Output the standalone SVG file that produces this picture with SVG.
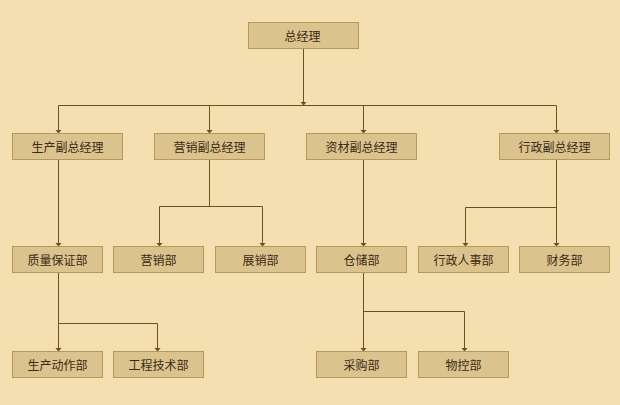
<svg xmlns="http://www.w3.org/2000/svg" width="620" height="405" viewBox="0 0 620 405">
<style>
.bg{fill:#F4DFB1}
.box rect{fill:#DBC38E;stroke:#B9975A;stroke-width:1}
.box text{font-family:"Noto Sans CJK SC","Noto Sans CJK JP",sans-serif;font-size:12px;fill:#3C2A12;text-anchor:middle;dominant-baseline:central}
.conn path{fill:none;stroke:#6E4F22;stroke-width:1}
</style>
<defs>
<marker id="arr" markerUnits="userSpaceOnUse" markerWidth="4" markerHeight="7" viewBox="0 -3.5 4 7" refX="4" refY="0" orient="auto">
<path d="M0,-3.5 L4,0 L0,3.5 z" fill="#6E4F22"/>
</marker>
</defs>
<rect class="bg" x="0" y="0" width="620" height="405"/>
<g id="connectors" class="conn">
<path d="M303.5,48.5 V105.5" marker-end="url(#arr)"/>
<path d="M58.5,105.5 H556.5"/>
<path d="M58.5,105.5 V133.5" marker-end="url(#arr)"/>
<path d="M209.5,105.5 V133.5" marker-end="url(#arr)"/>
<path d="M363.5,105.5 V133.5" marker-end="url(#arr)"/>
<path d="M556.5,105.5 V133.5" marker-end="url(#arr)"/>
<path d="M58.5,159.5 V246.5" marker-end="url(#arr)"/>
<path d="M209.5,159.5 V206.5 M159.5,206.5 H262.5"/>
<path d="M159.5,206.5 V246.5" marker-end="url(#arr)"/>
<path d="M262.5,206.5 V246.5" marker-end="url(#arr)"/>
<path d="M363.5,159.5 V246.5" marker-end="url(#arr)"/>
<path d="M465.5,207.5 H556.5"/>
<path d="M556.5,159.5 V246.5" marker-end="url(#arr)"/>
<path d="M465.5,207.5 V246.5" marker-end="url(#arr)"/>
<path d="M58.5,272.5 V351.5" marker-end="url(#arr)"/>
<path d="M58.5,323.5 H157.5"/>
<path d="M157.5,323.5 V351.5" marker-end="url(#arr)"/>
<path d="M363.5,272.5 V351.5" marker-end="url(#arr)"/>
<path d="M363.5,311.5 H464.5"/>
<path d="M464.5,311.5 V351.5" marker-end="url(#arr)"/>
</g>
<g id="n_gm" class="box"><rect x="248.5" y="22.5" width="110" height="26"/><text x="302.5" y="35.5">总经理</text></g>
<g id="n_prod_vp" class="box"><rect x="12.5" y="133.5" width="110" height="26"/><text x="67.5" y="146.5">生产副总经理</text></g>
<g id="n_sales_vp" class="box"><rect x="154.5" y="133.5" width="110" height="26"/><text x="209.5" y="146.5">营销副总经理</text></g>
<g id="n_mat_vp" class="box"><rect x="306.5" y="133.5" width="110" height="26"/><text x="361.5" y="146.5">资材副总经理</text></g>
<g id="n_admin_vp" class="box"><rect x="499.5" y="133.5" width="110" height="26"/><text x="554.5" y="146.5">行政副总经理</text></g>
<g id="n_qa" class="box"><rect x="12.5" y="246.5" width="90" height="26"/><text x="57.5" y="259.5">质量保证部</text></g>
<g id="n_sales" class="box"><rect x="113.5" y="246.5" width="90" height="26"/><text x="158.5" y="259.5">营销部</text></g>
<g id="n_expo" class="box"><rect x="215.5" y="246.5" width="90" height="26"/><text x="260.5" y="259.5">展销部</text></g>
<g id="n_store" class="box"><rect x="316.5" y="246.5" width="90" height="26"/><text x="361.5" y="259.5">仓储部</text></g>
<g id="n_hr" class="box"><rect x="418.5" y="246.5" width="90" height="26"/><text x="463.5" y="259.5">行政人事部</text></g>
<g id="n_fin" class="box"><rect x="519.5" y="246.5" width="90" height="26"/><text x="564.5" y="259.5">财务部</text></g>
<g id="n_prodop" class="box"><rect x="12.5" y="351.5" width="90" height="26"/><text x="57.5" y="364.5">生产动作部</text></g>
<g id="n_eng" class="box"><rect x="113.5" y="351.5" width="90" height="26"/><text x="158.5" y="364.5">工程技术部</text></g>
<g id="n_purch" class="box"><rect x="316.5" y="351.5" width="90" height="26"/><text x="361.5" y="364.5">采购部</text></g>
<g id="n_matctl" class="box"><rect x="418.5" y="351.5" width="90" height="26"/><text x="463.5" y="364.5">物控部</text></g>
</svg>
